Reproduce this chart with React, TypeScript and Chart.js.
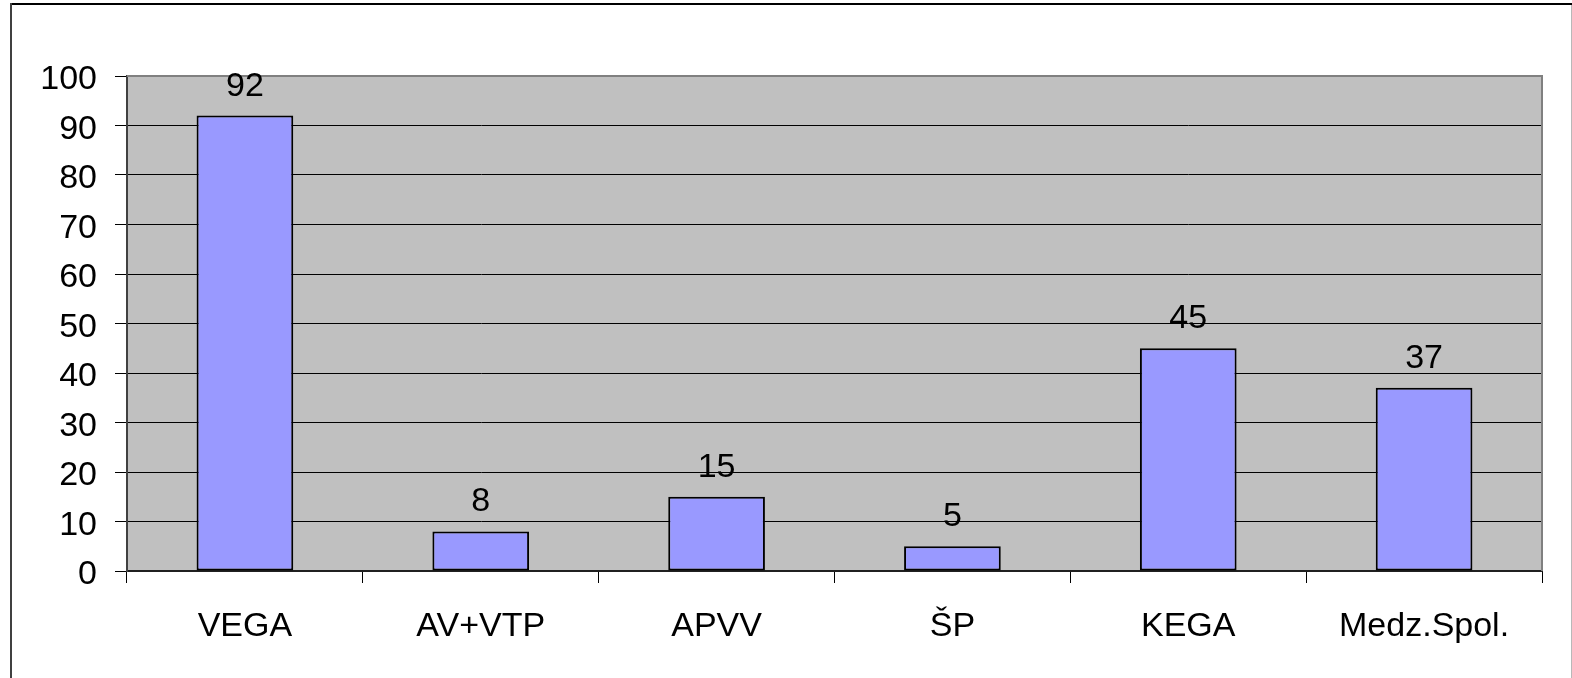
import React, { useEffect, useRef } from "react";
import { Chart, registerables } from "chart.js";

Chart.register(...registerables);

const categories = ["VEGA", "AV+VTP", "APVV", "ŠP", "KEGA", "Medz.Spol."];
const values = [92, 8, 15, 5, 45, 37];
const yTicks = [0, 10, 20, 30, 40, 50, 60, 70, 80, 90, 100];

const FONT = "'Liberation Sans', Arial, sans-serif";

const framePlugin = {
  id: "framePlugin",
  beforeDraw(chart: any) {
    const { ctx, chartArea, width, height } = chart;
    ctx.save();
    ctx.fillStyle = "#ffffff";
    ctx.fillRect(0, 0, width, height);
    // outer border
    ctx.fillStyle = "#000000";
    ctx.fillRect(10, 3, width - 10, 2);
    ctx.fillStyle = "#404040";
    ctx.fillRect(10, 3, 2, height - 3);
    ctx.fillStyle = "#b8b8b8";
    ctx.fillRect(width - 1, 5, 1, height - 5);
    // plot background
    ctx.fillStyle = "#C0C0C0";
    ctx.fillRect(chartArea.left, chartArea.top, chartArea.right - chartArea.left, chartArea.bottom - chartArea.top);
    ctx.restore();
  },
  beforeDatasetsDraw(chart: any) {
    const { ctx, chartArea } = chart;
    ctx.save();
    ctx.strokeStyle = "#808080";
    ctx.lineWidth = 2;
    ctx.beginPath();
    ctx.moveTo(chartArea.left, chartArea.top);
    ctx.lineTo(chartArea.right, chartArea.top);
    ctx.lineTo(chartArea.right, chartArea.bottom);
    ctx.stroke();
    ctx.restore();
  },
  afterDatasetsDraw(chart: any) {
    const { ctx } = chart;
    const meta = chart.getDatasetMeta(0);
    ctx.save();
    ctx.fillStyle = "#000000";
    ctx.font = `34px ${FONT}`;
    ctx.textAlign = "center";
    ctx.textBaseline = "alphabetic";
    meta.data.forEach((bar: any, i: number) => {
      ctx.fillText(String(values[i]), bar.x, bar.y - 20);
    });
    ctx.restore();
  },
};

export default function App() {
  const canvasRef = useRef<HTMLCanvasElement | null>(null);

  useEffect(() => {
    if (!canvasRef.current) return;
    const chart = new Chart(canvasRef.current, {
      type: "bar",
      data: {
        labels: categories,
        datasets: [
          {
            data: values,
            backgroundColor: "#9999FF",
            borderColor: "#000000",
            borderWidth: 2,
            borderSkipped: false,
            categoryPercentage: 1,
            barPercentage: 0.41,
          },
        ],
      },
      options: {
        animation: false,
        responsive: true,
        maintainAspectRatio: false,
        layout: { padding: { top: 76, right: 30, left: 0, bottom: 0 } },
        plugins: {
          legend: { display: false },
          tooltip: { enabled: false },
          title: { display: false },
        },
        scales: {
          x: {
            grid: {
              offset: true,
              drawOnChartArea: false,
              drawTicks: true,
              tickLength: 12,
              tickColor: "#000000",
              tickWidth: 1,
            },
            border: { display: true, color: "#202020", width: 2 },
            ticks: {
              color: "#000000",
              font: { size: 34, family: FONT },
              padding: 23,
              maxRotation: 0,
              autoSkip: false,
            },
            afterFit: (scale: any) => {
              scale.height = 107;
            },
          },
          y: {
            min: 0,
            max: 100,
            afterBuildTicks: (scale: any) => {
              scale.ticks = yTicks.map((v) => ({ value: v }));
            },
            grid: {
              color: (ctx: any) => (ctx.tick && ctx.tick.value === 100 ? "rgba(0,0,0,0)" : "#000000"),
              lineWidth: 1,
              drawTicks: true,
              tickLength: 12,
              tickColor: "#000000",
            },
            border: { display: true, color: "#404040", width: 2 },
            ticks: {
              color: "#000000",
              font: { size: 34, family: FONT },
              padding: 18,
              labelOffset: 4,
            },
            afterFit: (scale: any) => {
              scale.width = 127;
            },
          },
        },
      },
      plugins: [framePlugin],
    });
    return () => chart.destroy();
  }, []);

  return (
    <div style={{ position: "fixed", left: 0, top: 0, width: 1572, height: 678 }}>
      <canvas ref={canvasRef} />
    </div>
  );
}
